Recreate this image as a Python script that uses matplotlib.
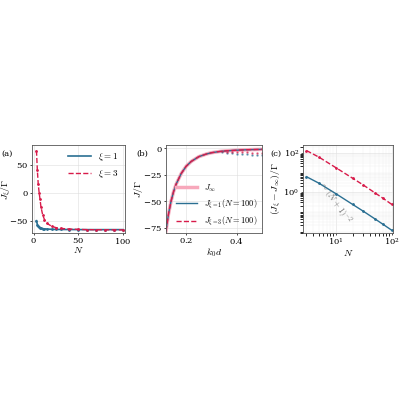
import numpy as np
import matplotlib
matplotlib.use("Agg")
import matplotlib.pyplot as plt

plt.rcParams['mathtext.fontset'] = 'cm'
plt.rcParams['font.family'] = 'serif'
plt.rcParams['font.serif'] = ['DejaVu Serif']
plt.rcParams['font.size'] = 6
plt.rcParams['axes.formatter.use_mathtext'] = True

BLUE = '#2a6f92'
RED = '#d81b4a'
PINK = '#f7a8bb'

# panel (a)
N_a = [3, 4, 5, 6, 7, 8, 10, 12, 15, 20, 25, 30, 40, 50, 60, 70, 80, 90, 100]
J1_a = [-50, -57, -60, -62, -63, -63.5, -64.2, -64.6, -65, -65.4, -65.6, -65.7, -65.8, -65.9, -66, -66, -66, -66, -66]
J3_a = [75, 40, 15, 0, -12, -25, -40, -48, -55, -60, -62.5, -63.8, -65, -65.6, -66, -66.2, -66.3, -66.4, -66.5]

# panel (b)
kd_b = [0.12, 0.13, 0.14, 0.15, 0.16, 0.18, 0.20, 0.22, 0.25, 0.28, 0.30, 0.33, 0.36, 0.40, 0.45, 0.50]
Jinf_b = [-78, -62, -50, -41, -34, -24, -17, -12.5, -8, -5.5, -4.3, -3.2, -2.5, -1.9, -1.4, -1.1]
kd_pts = [0.34, 0.36, 0.38, 0.40, 0.42, 0.44, 0.46, 0.48, 0.50]
J1_pts = [-4, -4.5, -5, -5.3, -5.6, -5.8, -6, -6.2, -6.4]
J3_pts = [-3, -3.2, -3.4, -3.6, -3.8, -4, -4.1, -4.2, -4.3]

# panel (c)
N_c = [3, 5, 10, 20, 30, 50, 70, 100]
D3_c = [130, 60, 17.5, 5.0, 2.4, 0.9, 0.47, 0.23]
D1_c = [6.0, 2.8, 0.82, 0.23, 0.11, 0.042, 0.022, 0.011]

fig = plt.figure(figsize=(4, 4), dpi=100)
axa = fig.add_axes([0.08, 0.4175, 0.232, 0.22])
axb = fig.add_axes([0.415, 0.4175, 0.24, 0.22])
axc = fig.add_axes([0.7575, 0.4175, 0.225, 0.22])

for ax in (axa, axb, axc):
    ax.grid(True, color='#dddddd', lw=0.4)
    for s in ax.spines.values():
        s.set_color('#555555'); s.set_linewidth(0.6)
    ax.tick_params(length=1.5, width=0.5, pad=1, labelsize=6)

axa.plot(N_a, J1_a, '-', color=BLUE, lw=1.2, label=r'$\xi=1$')
axa.plot(N_a, J1_a, '.', color=BLUE, ms=2)
axa.plot(N_a, J3_a, '--', color=RED, lw=1.0, label=r'$\xi=3$')
axa.plot(N_a, J3_a, '.', color=RED, ms=2)
axa.set_xlim(-2, 102); axa.set_ylim(-72, 85)
axa.set_xticks([0, 50, 100]); axa.set_yticks([-50, 0, 50])
axa.set_xlabel(r'$N$', labelpad=-1, fontsize=7); axa.set_ylabel(r'$J_\xi/\Gamma$', fontsize=7)
axa.yaxis.set_label_coords(-0.2, 0.5)
axa.legend(frameon=False, fontsize=6.5, loc='upper right', handlelength=2.5, borderaxespad=0.3)
fig.text(0.003, 0.61, '(a)', fontsize=6)

axb.plot(kd_b, Jinf_b, '-', color=PINK, lw=2.5, label=r'$J_\infty$')
axb.plot(kd_b, Jinf_b, '-', color=BLUE, lw=1.0, label=r'$J_{\xi=1}(N=100)$')
axb.plot(kd_b, Jinf_b, '--', color=RED, lw=1.0, label=r'$J_{\xi=3}(N=100)$')
axb.plot(kd_pts, J1_pts, '.', color=BLUE, ms=1.5, alpha=0.6)
axb.plot(kd_pts, J3_pts, '.', color=RED, ms=1.5, alpha=0.6)
axb.set_xlim(0.12, 0.5); axb.set_ylim(-80, 3)
axb.set_xticks([0.2, 0.4]); axb.set_yticks([-75, -50, -25, 0])
axb.set_xlabel(r'$k_0 d$', labelpad=0, fontsize=7); axb.set_ylabel(r'$J/\Gamma$', labelpad=-1, fontsize=7)
axb.legend(frameon=False, fontsize=6, loc='lower right', handlelength=2.5, borderaxespad=0.2)
fig.text(0.34, 0.61, '(b)', fontsize=6)

axc.loglog(N_c, D3_c, '--', color=RED, lw=1.0)
axc.loglog(N_c, D3_c, '.', color=RED, ms=2)
axc.loglog(N_c, D1_c, '-', color=BLUE, lw=1.0)
axc.loglog(N_c, D1_c, '.', color=BLUE, ms=2)
axc.set_xlim(2.6, 105); axc.set_ylim(0.008, 250)
axc.set_yticks([1, 100])
axc.grid(True, which='minor', color='#eeeeee', lw=0.3)
axc.set_xlabel(r'$N$', labelpad=0, fontsize=7); axc.set_ylabel(r'$(J_\xi-J_\infty)/\Gamma$', labelpad=0, fontsize=7)
axc.text(9.3, 0.27, r'$\sim(N+1)^{-2}$', rotation=-55, color='#777777', fontsize=6.5, ha='center', va='center')
fig.text(0.675, 0.61, '(c)', fontsize=6)

fig.savefig('out.png', dpi=100)
